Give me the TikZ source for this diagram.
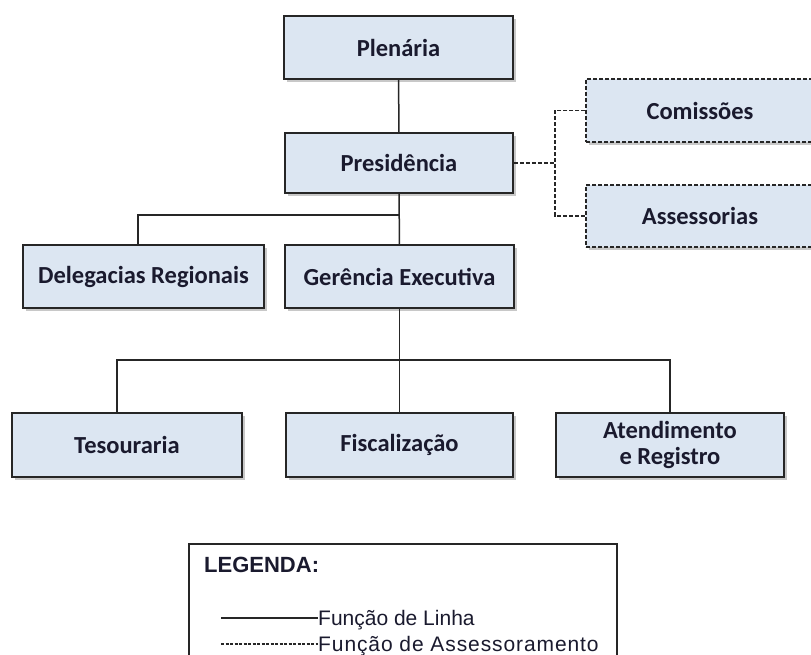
\documentclass[tikz,border=0pt]{standalone}
\usepackage{fontspec}
\setmainfont{Carlito}
\newfontfamily\legfont{Liberation Sans}
\usepackage{tikz}
\usetikzlibrary{shadows}
\definecolor{boxfill}{HTML}{DCE6F2}
\definecolor{boxline}{HTML}{262626}
\definecolor{boxtext}{HTML}{1A1A2E}
\tikzset{orgbox/.style={rectangle,draw=boxline,fill=boxfill,line width=1.5pt,text=boxtext,
    font=\fontsize{24.5}{26}\selectfont\bfseries,align=center,inner sep=0pt,
    drop shadow={shadow xshift=2.5pt,shadow yshift=-2.5pt,opacity=.3,fill=black!70}},
  orgdash/.style={orgbox,dashed,dash pattern=on 4pt off 2pt},
  link/.style={draw=boxline,line width=1.5pt},
  advlink/.style={link,dash pattern=on 4pt off 2pt},
  legtext/.style={font=\legfont\fontsize{21}{24}\selectfont,text=boxtext,inner sep=0pt}}

\begin{document}
\begin{tikzpicture}[x=1pt,y=-1pt]
    \clip (0,0) rectangle (811,654);
    \fill[white] (0,0) rectangle (811,654);

    \node[orgbox,minimum width=229pt,minimum height=63pt] (plen) at (398.5,47.5) {Plen\'aria};
    \node[orgbox,minimum width=228pt,minimum height=60pt] (pres) at (399,163) {Presid\^encia};
    \node[orgdash,minimum width=244pt,minimum height=63pt] (com) at (708,110.5) {\hspace*{-16pt}Comiss\~oes};
    \node[orgdash,minimum width=244pt,minimum height=62pt] (ass) at (708,216) {\hspace*{-16pt}Assessorias};
    \node[orgbox,minimum width=241pt,minimum height=63pt] (deleg) at (143.5,276.5) {Delegacias Regionais};
    \node[orgbox,minimum width=229pt,minimum height=63pt] (ger) at (399.5,276.5) {Ger\^encia Executiva};
    \node[orgbox,minimum width=230pt,minimum height=64pt] (tes) at (127,445) {Tesouraria};
    \node[orgbox,minimum width=227pt,minimum height=64pt] (fisc) at (399.5,445) {Fiscaliza\c{c}\~ao};
    \node[orgbox,minimum width=228pt,minimum height=64pt] (aten) at (670,445) {Atendimento\\e Registro};

    \coordinate (jd) at (399,215);
    \coordinate (jt) at (399,360);
    \coordinate (jb) at (555,163);

    \draw[link] (plen) -- (pres);
    \draw[link] (pres) -- (ger);
    \draw[link] ([xshift=-5.5pt]deleg.north) |- (jd);
    \draw[link] (ger) -- (fisc);
    \draw[link] ([xshift=-10pt]tes.north) |- (jt) -| (aten.north);
    \draw[advlink] (pres.east) -- (jb);
    \draw[advlink] (com.west) -| (jb) |- (ass.west);

    \draw[link,line width=1.2pt] (189,544) rectangle (617,680);
    \node[legtext,font=\legfont\fontsize{22}{24}\selectfont\bfseries,anchor=base west] (leg) at (204,572) {LEGENDA:};
    \coordinate (la) at (221,618);
    \coordinate (lb) at (318,618);
    \coordinate (lc) at (221,644);
    \coordinate (ld) at (318,644);
    \draw[link,line width=1.2pt] (la) -- (lb);
    \draw[link,line width=1.2pt,dash pattern=on 3pt off 1.5pt] (lc) -- (ld);
    \node[legtext,anchor=base west] (lin) at (lb |- 0,625) {Fun\c{c}\~ao de Linha};
    \node[legtext,anchor=base west] (ase) at (ld |- 0,651) {\addfontfeature{LetterSpace=4.3}Fun\c{c}\~ao de Assessoramento};
\end{tikzpicture}
\end{document}
